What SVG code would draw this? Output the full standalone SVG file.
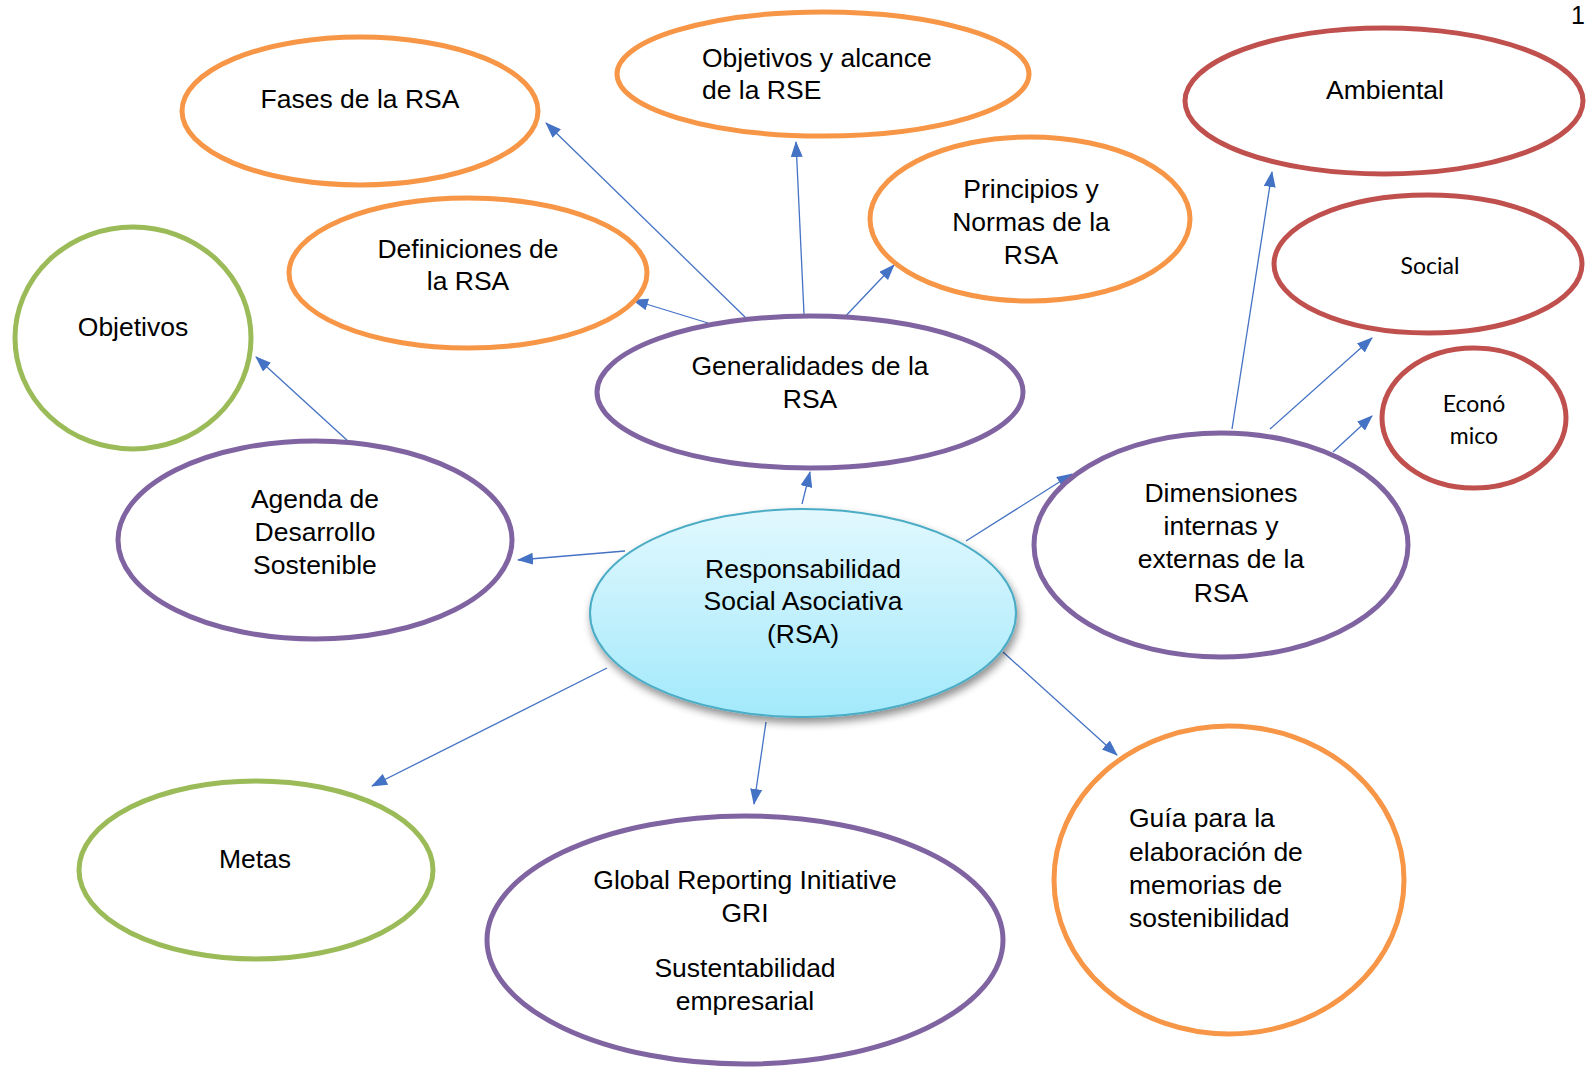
<svg xmlns="http://www.w3.org/2000/svg" width="1586" height="1068" viewBox="0 0 1586 1068">
<defs>
<linearGradient id="cg" x1="0" y1="0" x2="0" y2="1">
<stop offset="0" stop-color="#E2F8FE"/>
<stop offset="1" stop-color="#A2E9FB"/>
</linearGradient>
<filter id="sh" x="-10%" y="-10%" width="130%" height="140%">
<feGaussianBlur in="SourceAlpha" stdDeviation="4"/>
<feOffset dx="2" dy="5" result="b"/>
<feComponentTransfer><feFuncA type="linear" slope="0.45"/></feComponentTransfer>
<feMerge><feMergeNode/><feMergeNode in="SourceGraphic"/></feMerge>
</filter>
<marker id="ah" viewBox="0 0 16 12" refX="15" refY="6" markerWidth="16" markerHeight="12" markerUnits="userSpaceOnUse" orient="auto">
<path d="M0,0 L16,6 L0,12 z" fill="#4472C4"/>
</marker>
</defs>
<style>
.t{font-family:"Liberation Sans",Arial,sans-serif;font-size:26.5px;fill:#000}
.c{font-family:Lato,"Open Sans",sans-serif;font-size:23px;fill:#000}
.m{text-anchor:middle}
.n{fill:#fff;stroke-width:5}
.o{stroke:#F79646}
.p{stroke:#8064A2}
.g{stroke:#9BBB59}
.r{stroke:#C0504D}
.e{stroke:#4472C4;stroke-width:1.3;fill:none;marker-end:url(#ah)}
</style>
<rect width="1586" height="1068" fill="#fff"/>
<text x="1585" y="24" class="t" style="font-size:25px" text-anchor="end">1</text>
<g id="connectors">
<line class="e" x1="746" y1="318" x2="546" y2="123"/>
<line class="e" x1="804" y1="314" x2="796" y2="142"/>
<line class="e" x1="840" y1="322" x2="894" y2="265"/>
<line class="e" x1="708" y1="323" x2="633" y2="300"/>
<line class="e" x1="802" y1="504" x2="810" y2="472"/>
<line class="e" x1="349" y1="442" x2="256" y2="357"/>
<line class="e" x1="625" y1="551" x2="518" y2="560"/>
<line class="e" x1="966" y1="541" x2="1072" y2="474"/>
<line class="e" x1="1232" y1="429" x2="1272" y2="172"/>
<line class="e" x1="1270" y1="429" x2="1372" y2="338"/>
<line class="e" x1="1333" y1="452" x2="1372" y2="416"/>
<line class="e" x1="607" y1="668" x2="372" y2="786"/>
<line class="e" x1="766" y1="722" x2="754" y2="804"/>
<line class="e" x1="1003" y1="652" x2="1117" y2="755"/>
</g>
<g id="fases"><ellipse class="n o" cx="360" cy="111" rx="178" ry="74"/><text class="t m" x="360" y="108">Fases de la RSA</text></g>
<g id="objetivos-alcance"><ellipse class="n o" cx="823" cy="74" rx="206" ry="62"/><text class="t" x="702" y="67">Objetivos y alcance</text><text class="t" x="702" y="99">de la RSE</text></g>
<g id="ambiental"><ellipse class="n r" cx="1384" cy="101" rx="199" ry="73"/><text class="t m" x="1385" y="99">Ambiental</text></g>
<g id="principios"><ellipse class="n o" cx="1030" cy="219" rx="160" ry="82"/><text class="t m" x="1031" y="198">Principios y</text><text class="t m" x="1031" y="231">Normas de la</text><text class="t m" x="1031" y="264">RSA</text></g>
<g id="definiciones"><ellipse class="n o" cx="468" cy="273" rx="179" ry="75"/><text class="t m" x="468" y="258">Definiciones de</text><text class="t m" x="468" y="290">la RSA</text></g>
<g id="social"><ellipse class="n r" cx="1428" cy="264" rx="154" ry="69"/><text class="c m" x="1430" y="274">Social</text></g>
<g id="economico"><ellipse class="n r" cx="1474" cy="418" rx="92" ry="70"/><text class="c m" x="1474" y="412">Econó</text><text class="c m" x="1474" y="444">mico</text></g>
<g id="objetivos"><ellipse class="n g" cx="133" cy="338" rx="118" ry="111"/><text class="t m" x="133" y="336">Objetivos</text></g>
<g id="generalidades"><ellipse class="n p" cx="810" cy="392" rx="213" ry="76"/><text class="t m" x="810" y="375">Generalidades de la</text><text class="t m" x="810" y="408">RSA</text></g>
<g id="agenda"><ellipse class="n p" cx="315" cy="540" rx="197" ry="99"/><text class="t m" x="315" y="508">Agenda de</text><text class="t m" x="315" y="541">Desarrollo</text><text class="t m" x="315" y="574">Sostenible</text></g>
<g id="dimensiones"><ellipse class="n p" cx="1221" cy="545" rx="187" ry="112"/><text class="t m" x="1221" y="502">Dimensiones</text><text class="t m" x="1221" y="535">internas y</text><text class="t m" x="1221" y="568">externas de la</text><text class="t m" x="1221" y="602">RSA</text></g>
<g id="rsa"><ellipse cx="803" cy="613" rx="213" ry="104" fill="url(#cg)" stroke="#4BACC6" stroke-width="2" filter="url(#sh)"/><text class="t m" x="803" y="578">Responsabilidad</text><text class="t m" x="803" y="610">Social Asociativa</text><text class="t m" x="803" y="643">(RSA)</text></g>
<g id="metas"><ellipse class="n g" cx="256" cy="870" rx="177" ry="89"/><text class="t m" x="255" y="868">Metas</text></g>
<g id="gri"><ellipse class="n p" cx="745" cy="940" rx="258" ry="124"/><text class="t m" x="745" y="889">Global Reporting Initiative</text><text class="t m" x="745" y="922">GRI</text><text class="t m" x="745" y="977">Sustentabilidad</text><text class="t m" x="745" y="1010">empresarial</text></g>
<g id="guia"><ellipse class="n o" cx="1229" cy="880" rx="175" ry="154"/><text class="t" x="1129" y="827">Guía para la</text><text class="t" x="1129" y="861">elaboración de</text><text class="t" x="1129" y="894">memorias de</text><text class="t" x="1129" y="927">sostenibilidad</text></g>
</svg>
